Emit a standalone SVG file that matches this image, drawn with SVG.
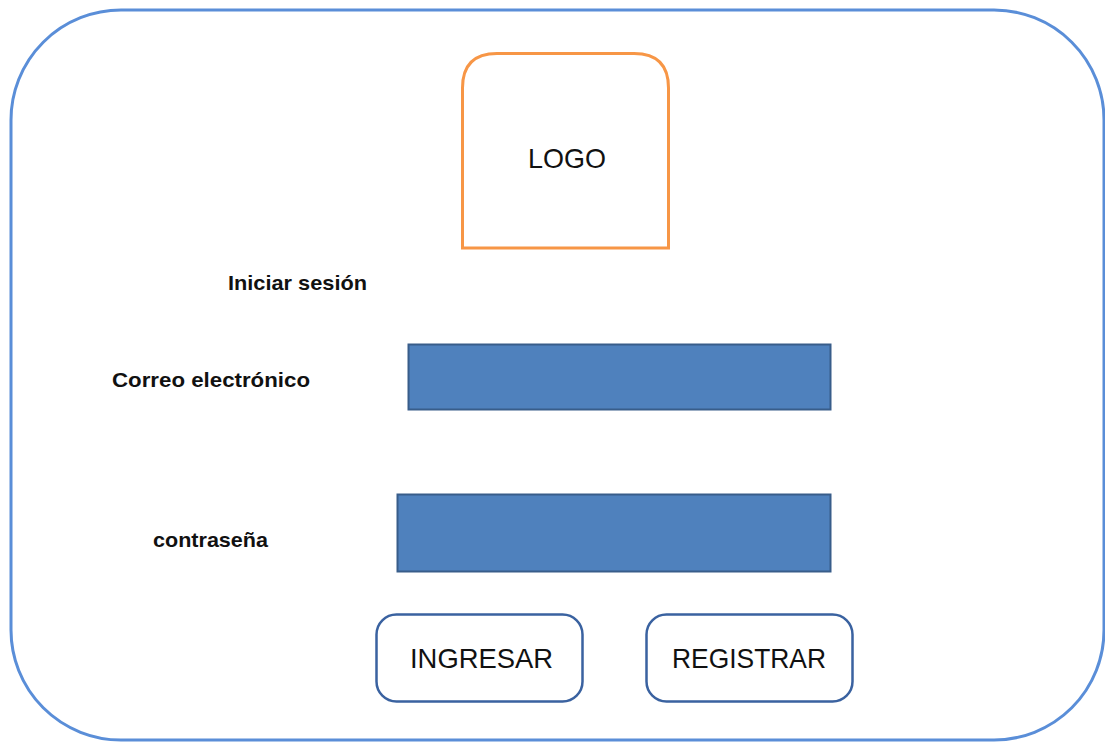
<svg xmlns="http://www.w3.org/2000/svg" width="1105" height="742" viewBox="0 0 1105 742">
<style>
.lbl{font-family:"Liberation Sans",Arial,sans-serif;font-weight:bold;font-size:21px;fill:#111}
.txt{font-family:"Liberation Sans",Arial,sans-serif;font-size:28px;fill:#111}
.field{fill:#4f81bd;stroke:#385d8a;stroke-width:2}
.btn{fill:#ffffff;stroke:#3a62a0;stroke-width:2.5}
</style>
<rect width="1105" height="742" fill="#ffffff"/>
<g id="frame">
<rect x="11" y="10" width="1093" height="730" rx="110" ry="110" fill="none" stroke="#5a8ed8" stroke-width="3"/>
</g>
<g id="logo">
<path d="M462.5,248 L462.5,88 Q462.5,53.5 497,53.5 L634,53.5 Q668.5,53.5 668.5,88 L668.5,248 Z" fill="#ffffff" stroke="#f79646" stroke-width="3"/>
<text class="txt" x="567" y="168" text-anchor="middle" textLength="78" lengthAdjust="spacingAndGlyphs">LOGO</text>
</g>
<g id="title">
<text class="lbl" x="228" y="290" textLength="139" lengthAdjust="spacingAndGlyphs">Iniciar sesión</text>
</g>
<g id="email">
<text class="lbl" x="112" y="387" textLength="198" lengthAdjust="spacingAndGlyphs">Correo electrónico</text>
<rect class="field" x="408.5" y="344.5" width="422" height="65"/>
</g>
<g id="password">
<text class="lbl" x="153" y="547" textLength="115" lengthAdjust="spacingAndGlyphs">contraseña</text>
<rect class="field" x="397.5" y="494.5" width="433" height="77"/>
</g>
<g id="ingresar">
<rect class="btn" x="376.5" y="614.5" width="206" height="87" rx="20" ry="20"/>
<text class="txt" x="410" y="668" textLength="143" lengthAdjust="spacingAndGlyphs">INGRESAR</text>
</g>
<g id="registrar">
<rect class="btn" x="646.5" y="614.5" width="206" height="87" rx="20" ry="20"/>
<text class="txt" x="672" y="668" textLength="154" lengthAdjust="spacingAndGlyphs">REGISTRAR</text>
</g>
<g id="connectors"></g>
</svg>
